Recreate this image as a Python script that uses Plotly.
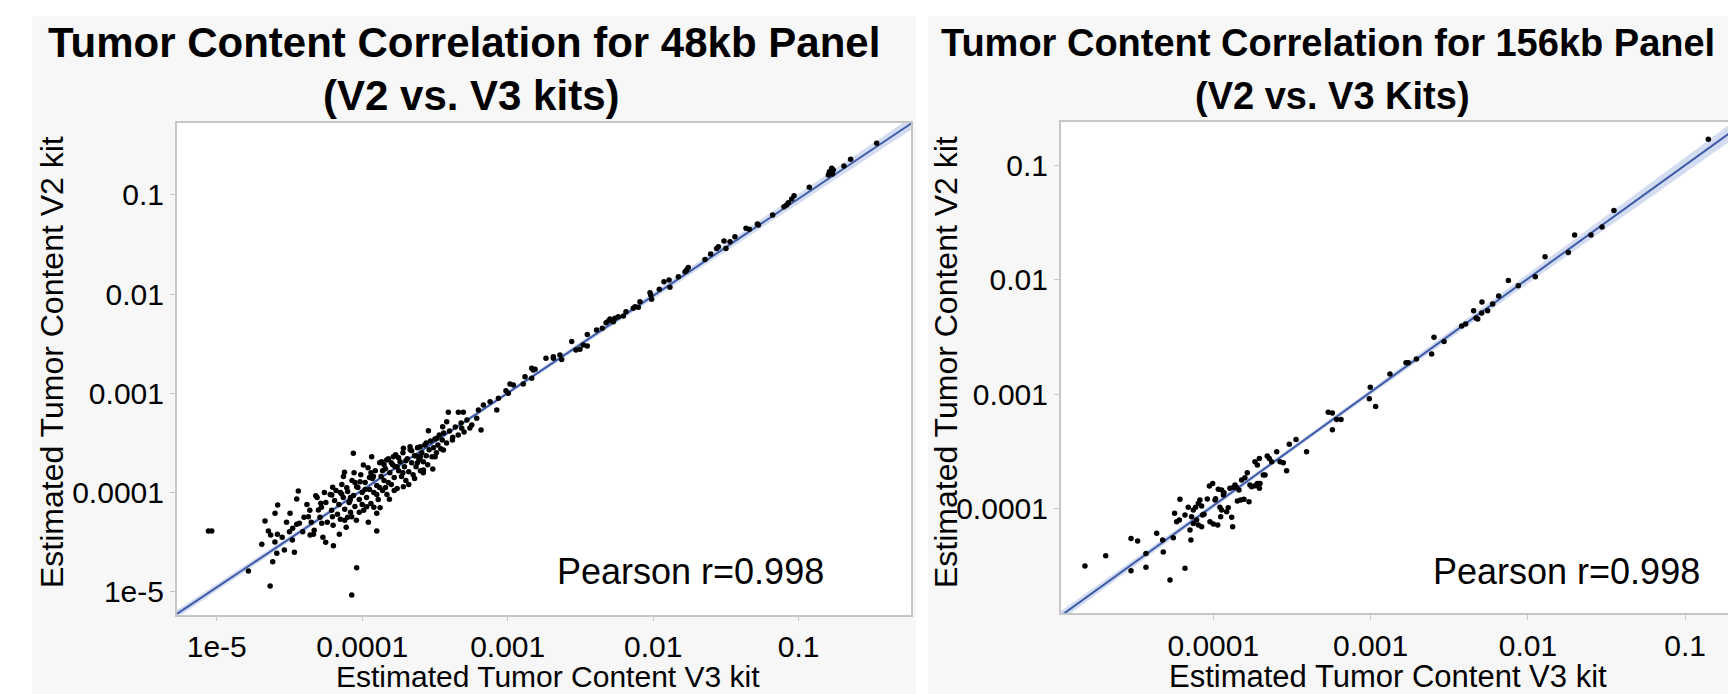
import numpy as np
import plotly.graph_objects as go

W, H = 1728, 694

# ---------------- data (log10 of estimated tumor content) ----------------
# 48kb panel : V3 kit (x) vs V2 kit (y)
v3_48kb_log = [
    -5.057, -5.034, -4.782, -4.633, -4.072, -4.038, -4.690, -4.615, -4.587, -4.535,
    -4.466, -4.668, -4.645, -4.629, -4.583, -4.581, -4.599, -4.496, -4.500, -4.478,
    -4.432, -4.450, -4.439, -4.409, -4.370, -4.358, -4.335, -4.319, -4.301, -4.285,
    -4.278, -4.251, -4.198, -4.157, -4.205, -4.209, -4.203, -4.141, -4.129, -4.122,
    -4.106, -4.061, -4.056, -4.083, -4.072, -4.038, -4.015, -3.992, -3.969, -3.958,
    -3.935, -3.923, -3.900, -3.900, -3.877, -3.866, -3.832, -3.813, -3.786, -3.774,
    -3.717, -3.717, -3.671, -3.625, -3.602, -3.579, -3.545, -3.515, -3.488, -3.499,
    -3.442, -3.447, -3.419, -3.408, -3.378, -3.339, -3.305, -3.316, -3.247, -3.213,
    -3.201, -3.183, -3.167, -3.121, -3.075, -3.064,
    # upper part
    -0.464, -0.643, -0.689, -0.773, -0.762, -0.789, -0.796, -0.767, -0.927, -1.032,
    -1.048, -1.071, -1.101, -1.083, -1.179, -1.284, -1.277, -1.362, -1.339, -1.438,
    -1.472, -1.513, -1.500, -1.564, -1.552, -1.605, -1.644, -1.759, -1.770, -1.781,
    -1.827, -1.891, -1.926, -1.885, -1.958, -2.022, -2.011, -2.017, -2.091, -2.102,
    -2.125, -2.137, -2.187, -2.205, -2.240, -2.263, -2.274, -2.297, -2.308, -2.324,
    -2.350, -2.389, -2.453, -2.453, -2.480, -2.503, -2.531, -2.560, -2.629, -2.641,
    -2.686, -2.686, -2.737, -2.812, -2.835, -2.824, -2.835, -2.881, -2.893, -2.961,
    -2.984, -3.012, -2.996,
    # dense core
    -4.25, -4.24, -4.22, -4.21, -4.20, -4.19, -4.18, -4.17, -4.16, -4.15,
    -4.14, -4.13, -4.12, -4.11, -4.10, -4.09, -4.08, -4.07, -4.06, -4.05,
    -4.04, -4.03, -4.02, -4.01, -4.00, -3.99, -3.98, -3.97, -3.96, -3.95,
    -3.94, -3.93, -3.92, -3.91, -3.90, -3.89, -3.88, -3.87, -3.86, -3.85,
    -3.84, -3.83, -3.82, -3.81, -3.80, -3.79, -3.78, -3.77, -3.76, -3.75,
    -3.74, -3.73, -3.72, -3.71, -3.70, -3.69, -3.68, -3.67, -3.66, -3.65,
    -3.64, -3.63, -3.62, -3.61, -3.60, -3.59, -3.58, -3.57, -3.56, -3.55,
    -3.54, -3.53, -3.52, -3.51, -3.50, -3.49, -3.48, -3.47, -3.46, -3.45,
    -3.44, -3.42, -3.40, -3.38, -3.36, -3.34, -3.32, -3.30, -3.28, -3.26,
    -4.40, -4.36, -4.33, -4.31, -4.29, -4.27, -4.35, -4.45, -4.55, -4.52,
    -4.60, -4.48, -4.38, -4.28, -4.26,
    -4.10, -4.05, -4.00, -3.95, -3.92, -3.88, -3.85, -3.82, -3.80, -3.78,
    -3.75, -3.72, -3.70, -3.68, -3.66, -3.64, -3.62, -3.60, -3.58, -3.56,
    -4.15, -4.12, -4.08, -4.02, -3.98, -3.94, -3.90, -3.86, -3.84, -3.76,
]
v2_48kb_log = [
    -4.388, -4.388, -4.791, -4.943, -5.033, -4.758, -4.522, -4.697, -4.613, -4.580,
    -4.603, -4.287, -4.388, -4.428, -4.422, -4.126, -4.210, -4.210, -4.395, -4.361,
    -4.311, -4.066, -3.985, -4.395, -4.244, -4.428, -4.422, -4.032, -4.176, -4.109,
    -4.311, -4.502, -4.536, -4.422, -4.244, -4.025, -3.948, -4.015, -3.840, -3.797,
    -3.951, -3.605, -3.800, -4.076, -4.244, -3.941, -3.891, -3.723, -4.143, -4.301,
    -3.639, -3.840, -4.388, -4.210, -4.153, -3.689, -3.672, -4.069, -3.639, -3.740,
    -3.941, -3.555, -3.538, -3.632, -3.538, -3.773, -3.377, -3.763, -3.454, -3.639,
    -3.571, -3.336, -3.286, -3.192, -3.444, -3.192, -3.192, -3.353, -3.320, -3.252,
    -3.168, -3.370, -3.118, -3.084, -3.168, -3.051,
    # upper part
    -0.480, -0.641, -0.709, -0.732, -0.749, -0.766, -0.799, -0.789, -0.924, -1.008,
    -1.041, -1.078, -1.119, -1.102, -1.203, -1.293, -1.303, -1.337, -1.347, -1.421,
    -1.471, -1.465, -1.539, -1.539, -1.522, -1.596, -1.650, -1.733, -1.757, -1.774,
    -1.824, -1.858, -1.875, -1.932, -1.952, -1.986, -2.053, -2.009, -2.076, -2.133,
    -2.127, -2.143, -2.177, -2.221, -2.228, -2.244, -2.278, -2.251, -2.271, -2.288,
    -2.345, -2.362, -2.406, -2.523, -2.513, -2.557, -2.563, -2.479, -2.658, -2.614,
    -2.647, -2.631, -2.647, -2.758, -2.849, -2.765, -2.748, -2.832, -2.906, -2.916,
    -2.906, -2.974, -3.000,
    # dense core
    -4.10, -4.30, -4.02, -4.18, -4.33, -4.08, -3.98, -4.22, -4.12, -4.27,
    -3.92, -4.05, -4.17, -4.35, -3.99, -4.10, -4.20, -3.88, -4.03, -4.14,
    -4.28, -3.95, -4.07, -3.82, -4.00, -4.18, -3.90, -4.05, -3.75, -3.97,
    -4.11, -3.86, -4.00, -3.78, -3.93, -4.07, -3.70, -3.84, -3.98, -3.88,
    -3.76, -4.02, -3.66, -3.80, -3.92, -3.72, -3.85, -3.62, -3.96, -3.78,
    -3.69, -3.84, -3.60, -3.74, -3.88, -3.66, -3.79, -3.57, -3.70, -3.82,
    -3.63, -3.74, -3.55, -3.67, -3.78, -3.60, -3.69, -3.52, -3.63, -3.72,
    -3.57, -3.48, -3.64, -3.55, -3.46, -3.60, -3.52, -3.42, -3.56, -3.47,
    -3.40, -3.50, -3.38, -3.47, -3.34, -3.42, -3.30, -3.39, -3.27, -3.35,
    -4.25, -4.18, -4.38, -4.05, -4.25, -4.45, -4.30, -4.32, -4.45, -4.30,
    -4.50, -4.48, -4.12, -4.15, -4.00,
    -4.25, -3.90, -4.12, -3.85, -4.15, -3.95, -3.72, -3.90, -3.70, -3.98,
    -3.65, -3.80, -3.68, -3.92, -3.58, -3.86, -3.70, -3.64, -3.80, -3.50,
    -4.00, -4.28, -4.05, -4.20, -3.97, -3.80, -4.02, -3.78, -3.95, -3.74,
]

# 156kb panel : V3 kit (x) vs V2 kit (y)
v3_156kb_log = [
    -4.816, -4.684, -4.523, -4.481, -4.523, -4.428, -4.428, -4.360, -4.322, -4.318,
    -4.275, -4.254, -4.246, -4.233, -4.216, -4.212, -4.180, -4.180, -4.148, -4.142,
    -4.159, -4.127, -4.112, -4.138, -4.127, -4.106, -4.095, -4.074, -4.068, -4.059,
    -4.085, -4.074, -4.095, -4.038, -4.025, -4.004, -4.021, -4.000, -3.972, -3.989,
    -3.985, -3.953, -3.958, -3.947, -3.968, -3.947, -3.936, -3.932, -3.915, -3.905,
    -3.883, -3.877, -3.894, -3.873, -3.862, -3.852, -3.837, -3.847, -3.826, -3.820,
    -3.799, -3.784, -3.805, -3.773, -3.767, -3.756, -3.735, -3.720, -3.707, -3.703,
    -3.735, -3.720, -3.707, -3.682, -3.671, -3.657, -3.644, -3.629, -3.597, -3.576,
    -3.555, -3.534, -3.517, -3.474, -3.407,
    -0.853, -1.453, -1.529, -1.599, -1.703, -1.743, -1.891, -1.953, -2.061, -2.124,
    -2.186, -2.224, -2.256, -2.292, -2.294, -2.319, -2.330, -2.345, -2.396, -2.421,
    -2.533, -2.597, -2.612, -2.709, -2.760, -2.775, -2.877, -3.002, -3.008, -2.968,
    -3.269, -3.243, -3.216, -3.188, -3.243,
]
v2_156kb_log = [
    -4.500, -4.410, -4.259, -4.282, -4.541, -4.512, -4.390, -4.215, -4.273, -4.378,
    -4.622, -4.253, -4.040, -4.113, -4.099, -3.918, -4.520, -4.055, -4.186, -4.273,
    -3.988, -4.011, -3.988, -4.070, -4.128, -4.099, -4.142, -4.157, -4.055, -4.049,
    -3.924, -3.976, -3.953, -3.915, -3.802, -3.779, -4.113, -4.134, -4.142, -3.924,
    -3.912, -4.070, -3.988, -4.011, -3.831, -3.837, -3.880, -3.860, -4.026, -3.991,
    -4.075, -4.157, -3.822, -3.814, -3.793, -3.814, -3.837, -3.933, -3.924, -3.750,
    -3.729, -3.686, -3.918, -3.939, -3.793, -3.808, -3.799, -3.779, -3.822, -3.779,
    -3.590, -3.619, -3.561, -3.706, -3.706, -3.540, -3.561, -3.590, -3.502, -3.590,
    -3.598, -3.668, -3.438, -3.395, -3.502,
    -0.774, -1.396, -1.541, -1.611, -1.611, -1.763, -1.799, -1.974, -2.054, -2.007,
    -2.143, -2.212, -2.272, -2.196, -2.292, -2.344, -2.335, -2.272, -2.387, -2.404,
    -2.540, -2.503, -2.649, -2.692, -2.725, -2.725, -2.824, -2.939, -3.039, -3.108,
    -3.158, -3.164, -3.220, -3.220, -3.310,
]

titles = [["Tumor Content Correlation for 48kb Panel", "(V2 vs. V3 kits)"],
          ["Tumor Content Correlation for 156kb Panel", "(V2 vs. V3 Kits)"]]
x_title = "Estimated Tumor Content V3 kit"
y_title = "Estimated Tumor Content V2 kit"
pearson_r = [0.998, 0.998]

tick_vals_48 = [1e-5, 1e-4, 1e-3, 1e-2, 1e-1]
tick_text_48 = ["1e-5", "0.0001", "0.001", "0.01", "0.1"]
tick_vals_156 = [1e-4, 1e-3, 1e-2, 1e-1]
tick_text_156 = ["0.0001", "0.001", "0.01", "0.1"]

# ---------------- geometry (pixels) ----------------
L_box = dict(x0=176.7, x1=911.0, y0=122.7, y1=614.5)
R_box = dict(x0=1060.7, x1=1728.0, y0=122.4, y1=613.3)
L_xr, L_yr = [-5.275, -0.228], [-5.230, -0.272]
R_xr, R_yr = [-4.970, -0.728], [-4.913, -0.627]


def px(x):
    return x / W


def py(y):
    return 1 - y / H


FONT = "Liberation Sans"
LINE_C = "#3d5ba8"
BAND_C = "rgba(110,140,205,0.30)"
AX_C = "#c6c6c6"


def fit_line(xl, yl, xr):
    xl = np.asarray(xl, float)
    yl = np.asarray(yl, float)
    b, a = np.polyfit(xl, yl, 1)
    n = len(xl)
    res = yl - (a + b * xl)
    s = np.sqrt((res ** 2).sum() / (n - 2))
    xs = np.linspace(xr[0] - 0.2, xr[1] + 0.2, 300)
    se = s * np.sqrt(1.0 / n + (xs - xl.mean()) ** 2 / ((xl - xl.mean()) ** 2).sum())
    yh = a + b * xs
    return xs, yh, yh - 1.96 * se, yh + 1.96 * se


fig = go.Figure()

panels = [
    (v3_48kb_log, v2_48kb_log, L_xr, "x", "y"),
    (v3_156kb_log, v2_156kb_log, R_xr, "x2", "y2"),
]
for xl, yl, xr, xa, ya in panels:
    xs, yh, lo, hi = fit_line(xl, yl, xr)
    X = 10 ** xs
    fig.add_trace(go.Scatter(x=np.concatenate([X, X[::-1]]),
                             y=np.concatenate([10 ** hi, (10 ** lo)[::-1]]),
                             fill="toself", fillcolor=BAND_C, mode="none",
                             hoverinfo="skip", xaxis=xa, yaxis=ya))
    fig.add_trace(go.Scatter(x=X, y=10 ** yh, mode="lines",
                             line=dict(color=LINE_C, width=2),
                             hoverinfo="skip", xaxis=xa, yaxis=ya))
    fig.add_trace(go.Scatter(x=10 ** np.asarray(xl), y=10 ** np.asarray(yl),
                             mode="markers",
                             marker=dict(color="black", size=5.5, line=dict(width=0)),
                             xaxis=xa, yaxis=ya))

ax = dict(type="log", showline=True, linecolor=AX_C, linewidth=1.5,
          ticks="outside", ticklen=5, tickwidth=1, tickcolor=AX_C,
          showgrid=False, zeroline=False, tickmode="array",
          tickfont=dict(family=FONT, size=30, color="black"))

fig.update_layout(
    width=W, height=H, margin=dict(l=0, r=0, t=0, b=0),
    paper_bgcolor="white", plot_bgcolor="white", showlegend=False,
    xaxis=dict(ax, domain=[px(L_box["x0"]), px(L_box["x1"])], range=L_xr,
               tickvals=tick_vals_48, ticktext=tick_text_48, mirror=True, anchor="y"),
    yaxis=dict(ax, domain=[py(L_box["y1"]), py(L_box["y0"])], range=L_yr,
               tickvals=tick_vals_48, ticktext=tick_text_48, mirror=True, anchor="x"),
    xaxis2=dict(ax, domain=[px(R_box["x0"]), 1.0], range=R_xr,
                tickvals=tick_vals_156, ticktext=tick_text_156, mirror=True, anchor="y2"),
    yaxis2=dict(ax, domain=[py(R_box["y1"]), py(R_box["y0"])], range=R_yr,
                tickvals=tick_vals_156, ticktext=tick_text_156, mirror=False, anchor="x2"),
)

# background panels
shapes = []
for x0, x1 in [(32, 916), (928, W)]:
    shapes.append(dict(type="rect", xref="paper", yref="paper", layer="below",
                       x0=px(x0), x1=px(x1), y0=0, y1=py(16),
                       fillcolor="#f7f7f7", line=dict(width=0)))
for b in (L_box, R_box):
    shapes.append(dict(type="rect", xref="paper", yref="paper", layer="below",
                       x0=px(b["x0"]), x1=px(b["x1"]), y0=py(b["y1"]), y1=py(b["y0"]),
                       fillcolor="white", line=dict(width=0)))
fig.update_layout(shapes=shapes)

ann = []
# titles
title_specs = [(titles[0], 464, 471, 42), (titles[1], 1327.5, 1332, 38)]
for (l1, l2), xc1, xc2, fs in title_specs:
    ann.append(dict(text="<b>%s</b>" % l1, x=px(xc1), y=py(42.8), xref="paper", yref="paper",
                    xanchor="center", yanchor="middle", showarrow=False,
                    font=dict(family=FONT, size=fs, color="black")))
    ann.append(dict(text="<b>%s</b>" % l2, x=px(xc2), y=py(95.5), xref="paper", yref="paper",
                    xanchor="center", yanchor="middle", showarrow=False,
                    font=dict(family=FONT, size=fs, color="black")))
# axis titles
for xc, fs in ((548, 30), (1388, 31)):
    ann.append(dict(text=x_title, x=px(xc), y=py(676), xref="paper", yref="paper",
                    xanchor="center", yanchor="middle", showarrow=False,
                    font=dict(family=FONT, size=fs, color="black")))
for xc in (52, 946):
    ann.append(dict(text=y_title, x=px(xc), y=py(362), xref="paper", yref="paper",
                    xanchor="center", yanchor="middle", showarrow=False, textangle=-90,
                    font=dict(family=FONT, size=32, color="black")))
# pearson
for xr_, r in zip((826, 1702), pearson_r):
    ann.append(dict(text="Pearson r=%.3f" % r, x=px(xr_), y=py(571), xref="paper", yref="paper",
                    xanchor="right", yanchor="middle", showarrow=False,
                    font=dict(family=FONT, size=36, color="black")))
fig.update_layout(annotations=ann)

fig.write_html("out.html")
